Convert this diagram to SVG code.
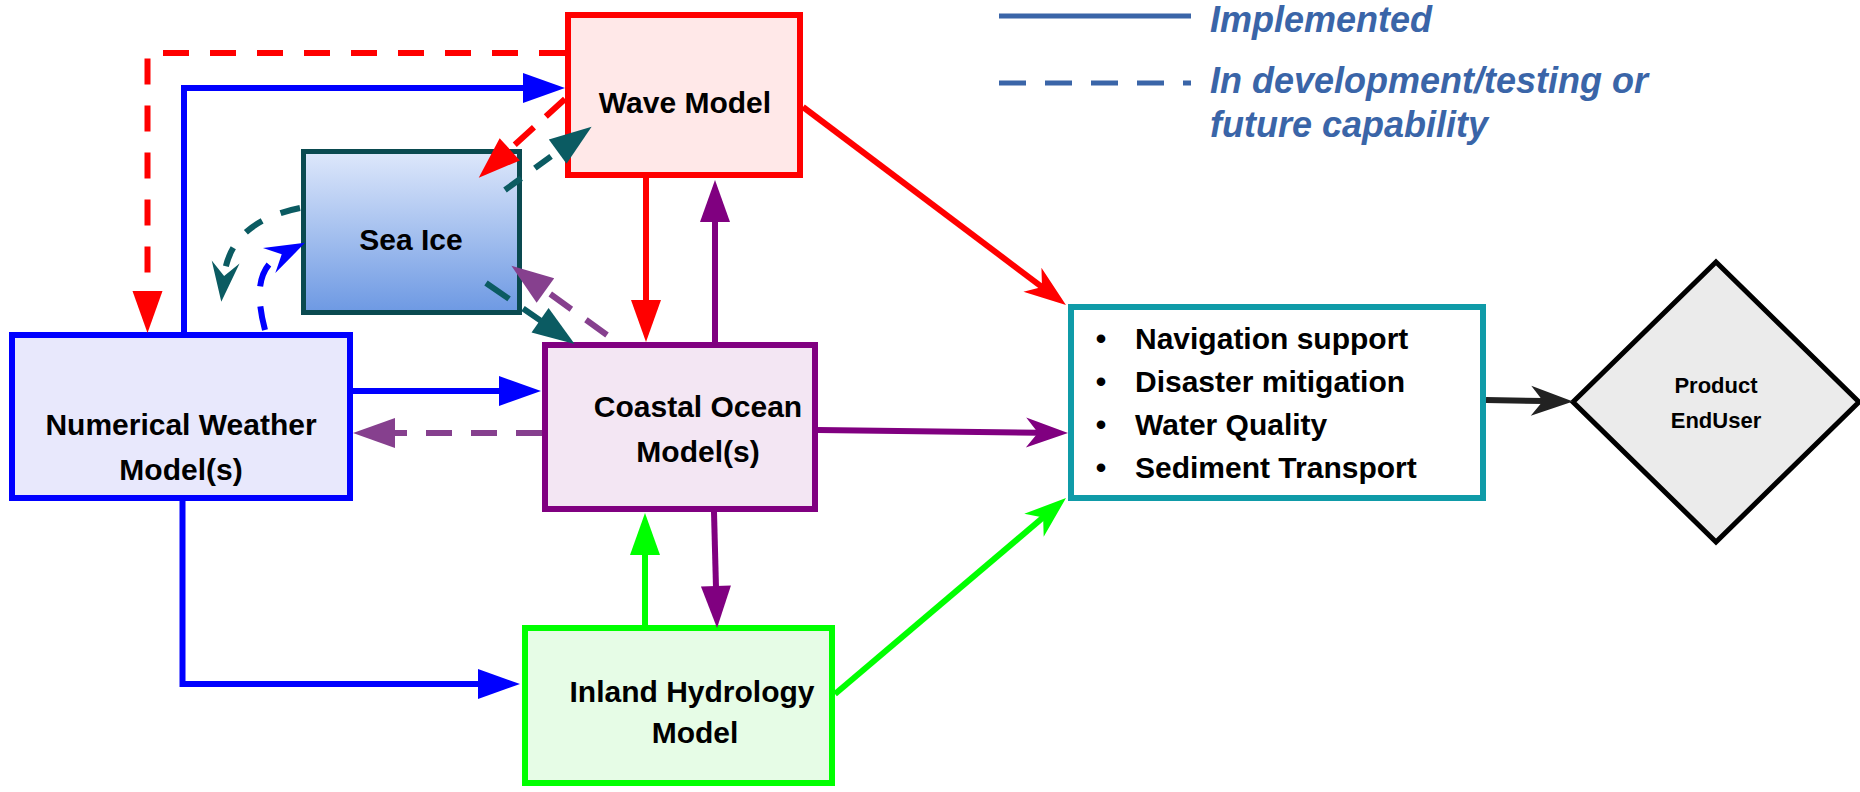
<svg xmlns="http://www.w3.org/2000/svg" width="1860" height="792" viewBox="0 0 1860 792">
<style>
.lbl{font-family:"Liberation Sans",Arial,sans-serif;font-weight:bold;font-size:30px;fill:#000;text-anchor:middle}
.lst{font-family:"Liberation Sans",Arial,sans-serif;font-weight:bold;font-size:30px;fill:#000}
.leg{font-family:"Liberation Sans",Arial,sans-serif;font-weight:bold;font-style:italic;font-size:36px;fill:#3A65A8}
.c{fill:none;stroke-width:6}
</style>
<defs>
<linearGradient id="ice" x1="0" y1="0" x2="0" y2="1">
<stop offset="0" stop-color="#DEE8FB"/>
<stop offset="1" stop-color="#6D99E3"/>
</linearGradient>
<marker id="t-red" markerUnits="userSpaceOnUse" markerWidth="42" markerHeight="30" refX="2" refY="15" orient="auto" overflow="visible"><path d="M0,0 L42,15 L0,30 z" fill="#FF0000"/></marker>
<marker id="t-blue" markerUnits="userSpaceOnUse" markerWidth="42" markerHeight="30" refX="2" refY="15" orient="auto" overflow="visible"><path d="M0,0 L42,15 L0,30 z" fill="#0000FF"/></marker>
<marker id="t-purple" markerUnits="userSpaceOnUse" markerWidth="42" markerHeight="30" refX="2" refY="15" orient="auto" overflow="visible"><path d="M0,0 L42,15 L0,30 z" fill="#800080"/></marker>
<marker id="t-lpurple" markerUnits="userSpaceOnUse" markerWidth="42" markerHeight="30" refX="2" refY="15" orient="auto" overflow="visible"><path d="M0,0 L42,15 L0,30 z" fill="#86408E"/></marker>
<marker id="t-green" markerUnits="userSpaceOnUse" markerWidth="42" markerHeight="30" refX="2" refY="15" orient="auto" overflow="visible"><path d="M0,0 L42,15 L0,30 z" fill="#00FF00"/></marker>
<marker id="t-teal" markerUnits="userSpaceOnUse" markerWidth="42" markerHeight="30" refX="2" refY="15" orient="auto" overflow="visible"><path d="M0,0 L42,15 L0,30 z" fill="#0B5B62"/></marker>
<marker id="s-red" markerUnits="userSpaceOnUse" markerWidth="42" markerHeight="30" refX="13" refY="15" orient="auto" overflow="visible"><path d="M0,0 L42,15 L0,30 L12,15 z" fill="#FF0000"/></marker>
<marker id="s-purple" markerUnits="userSpaceOnUse" markerWidth="42" markerHeight="30" refX="13" refY="15" orient="auto" overflow="visible"><path d="M0,0 L42,15 L0,30 L12,15 z" fill="#800080"/></marker>
<marker id="s-green" markerUnits="userSpaceOnUse" markerWidth="42" markerHeight="30" refX="13" refY="15" orient="auto" overflow="visible"><path d="M0,0 L42,15 L0,30 L12,15 z" fill="#00FF00"/></marker>
<marker id="s-black" markerUnits="userSpaceOnUse" markerWidth="42" markerHeight="30" refX="13" refY="15" orient="auto" overflow="visible"><path d="M0,0 L42,15 L0,30 L12,15 z" fill="#222222"/></marker>
<marker id="s-teal" markerUnits="userSpaceOnUse" markerWidth="40" markerHeight="28" refX="15" refY="14" orient="auto" overflow="visible"><path d="M0,0 L40,14 L0,28 L14,14 z" fill="#0B5B62"/></marker>
<marker id="s-blue" markerUnits="userSpaceOnUse" markerWidth="40" markerHeight="28" refX="15" refY="14" orient="auto" overflow="visible"><path d="M0,0 L40,14 L0,28 L14,14 z" fill="#0000FF"/></marker>
</defs>
<rect width="1860" height="792" fill="#FFFFFF"/>

<g id="legend">
<path d="M999,16 H1191" stroke="#3A65A8" stroke-width="5" fill="none"/>
<path d="M999,83 H1191" stroke="#3A65A8" stroke-width="5" fill="none" stroke-dasharray="27 19"/>
<text class="leg" x="1210" y="32">Implemented</text>
<text class="leg" x="1210" y="93">In development/testing or</text>
<text class="leg" x="1210" y="137">future capability</text>
</g>

<g id="wave-model">
<rect x="568" y="15" width="232" height="160" fill="#FFE8E8" stroke="#FF0000" stroke-width="6"/>
<text class="lbl" x="685" y="113">Wave Model</text>
</g>

<g id="sea-ice">
<rect x="303.5" y="151.5" width="216" height="161" fill="url(#ice)" stroke="#0A4A50" stroke-width="5"/>
<text class="lbl" x="411" y="250">Sea Ice</text>
</g>

<g id="numerical-weather">
<rect x="12" y="335" width="338" height="163" fill="#E8E8FC" stroke="#0000FF" stroke-width="6"/>
<text class="lbl" x="181" y="435">Numerical Weather</text>
<text class="lbl" x="181" y="480">Model(s)</text>
</g>

<g id="coastal-ocean">
<rect x="545" y="345" width="270" height="164" fill="#F3E6F3" stroke="#800080" stroke-width="6"/>
<text class="lbl" x="698" y="417">Coastal Ocean</text>
<text class="lbl" x="698" y="462">Model(s)</text>
</g>

<g id="inland-hydrology">
<rect x="525" y="628" width="307" height="155" fill="#E6FCE6" stroke="#00FF00" stroke-width="6"/>
<text class="lbl" x="692" y="702">Inland Hydrology</text>
<text class="lbl" x="695" y="743">Model</text>
</g>

<g id="applications">
<rect x="1071" y="307" width="412" height="191" fill="#FFFFFF" stroke="#0F9BA8" stroke-width="6"/>
<text class="lbl" x="1101" y="349">•</text>
<text class="lbl" x="1101" y="392">•</text>
<text class="lbl" x="1101" y="435">•</text>
<text class="lbl" x="1101" y="478">•</text>
<text class="lst" x="1135" y="349">Navigation support</text>
<text class="lst" x="1135" y="392">Disaster mitigation</text>
<text class="lst" x="1135" y="435">Water Quality</text>
<text class="lst" x="1135" y="478">Sediment Transport</text>
</g>

<g id="product-enduser">
<polygon points="1716,262 1859,402 1716,542 1573,402" fill="#EBEBEB" stroke="#000000" stroke-width="5"/>
<text class="lbl" x="1716" y="393" style="font-size:22px">Product</text>
<text class="lbl" x="1716" y="428" style="font-size:22px">EndUser</text>
</g>

<g id="connectors">
<path class="c" d="M565,53 H147.5 V293" stroke="#FF0000" stroke-dasharray="26 21" marker-end="url(#t-red)"/>
<path class="c" d="M184,332 V88 H525" stroke="#0000FF" marker-end="url(#t-blue)"/>
<path class="c" d="M646,178 V302" stroke="#FF0000" marker-end="url(#t-red)"/>
<path class="c" d="M715,342 V220" stroke="#800080" marker-end="url(#t-purple)"/>
<path class="c" d="M353,391 H501" stroke="#0000FF" marker-end="url(#t-blue)"/>
<path class="c" d="M542,433 H393" stroke="#86408E" stroke-dasharray="26 19" marker-end="url(#t-lpurple)"/>
<path class="c" d="M182.5,501 V684 H480" stroke="#0000FF" marker-end="url(#t-blue)"/>
<path class="c" d="M645,625 V553" stroke="#00FF00" marker-end="url(#t-green)"/>
<path class="c" d="M714,512 L716,588" stroke="#800080" marker-end="url(#t-purple)"/>
<path class="c" d="M565,99 L508.3,150.7" stroke="#FF0000" stroke-dasharray="26 16" marker-end="url(#t-red)"/>
<path class="c" d="M505,190 L559.3,150.4" stroke="#0B5B62" stroke-dasharray="20 17" marker-end="url(#t-teal)"/>
<path class="c" d="M486,283 L541.7,321.4" stroke="#0B5B62" stroke-dasharray="28 17" marker-end="url(#t-teal)"/>
<path class="c" d="M607,335 L543.8,289.3" stroke="#86408E" stroke-dasharray="26 18" marker-end="url(#t-lpurple)"/>
<path class="c" d="M803,107 L1042.8,287.6" stroke="#FF0000" marker-end="url(#s-red)"/>
<path class="c" d="M818,430 L1039,432.7" stroke="#800080" marker-end="url(#s-purple)"/>
<path class="c" d="M835,694 L1043.9,516.8" stroke="#00FF00" marker-end="url(#s-green)"/>
<path class="c" d="M1486,400 L1544,401" stroke="#222222" stroke-width="7" marker-end="url(#s-black)"/>
<path class="c" d="M300,208 Q230,222 224,277" stroke="#0B5B62" stroke-width="5" stroke-dasharray="20 20" marker-end="url(#s-teal)"/>
<path class="c" d="M265,330 C255,292 258,266 282.6,253.9" stroke="#0000FF" stroke-width="5" stroke-dasharray="24 20" marker-end="url(#s-blue)"/>
</g>
</svg>
